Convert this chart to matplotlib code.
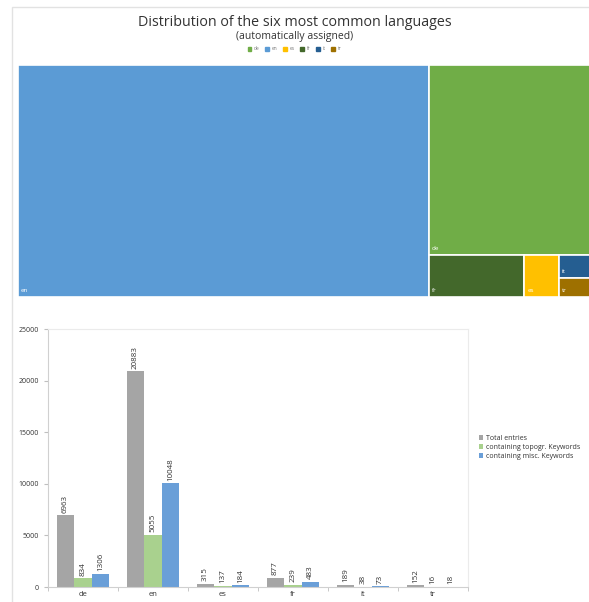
import matplotlib.pyplot as plt
import numpy as np
from matplotlib.patches import Rectangle, Patch

plt.rcParams['font.family'] = ['Open Sans', 'DejaVu Sans']

languages = ["de", "en", "es", "fr", "it", "tr"]
lang_colors = ["#70AD47", "#5B9BD5", "#FFC000", "#43682B", "#255E91", "#9E7000"]
total_entries = [6963, 20883, 315, 877, 189, 152]
topogr_keywords = [834, 5055, 137, 239, 38, 16]
misc_keywords = [1306, 10048, 184, 483, 73, 18]
series_names = ["Total entries", "containing topogr. Keywords", "containing misc. Keywords"]
series_colors = ["#A5A5A5", "#A9D18E", "#6A9FD8"]


def worst(row, length):
    s = sum(row)
    return max(max(length ** 2 * r / s ** 2, s ** 2 / (length ** 2 * r)) for r in row)


def squarify(values, x, y, w, h):
    # plain squarified treemap, values already scaled to w*h
    rects = []
    vals = list(values)
    while vals:
        length = min(w, h)
        row = [vals[0]]
        i = 1
        while i < len(vals) and worst(row + [vals[i]], length) <= worst(row, length):
            row.append(vals[i])
            i += 1
        vals = vals[i:]
        s = sum(row)
        if w >= h:
            cw = s / h
            yy = y
            for r in row:
                rects.append((x, yy, cw, r / cw))
                yy += r / cw
            x += cw
            w -= cw
        else:
            rh = s / w
            xx = x
            for r in row:
                rects.append((xx, y, r / rh, rh))
                xx += r / rh
            y += rh
            h -= rh
    return rects


fig = plt.figure(figsize=(5.89, 6.02), dpi=100)

# outer frame, runs off the right and bottom edge
fig.add_artist(Rectangle((12 / 589, -0.05), 1.0, 1 - 7 / 602 + 0.05, transform=fig.transFigure,
                         fill=False, edgecolor="#E2E2E2", lw=1.0))

fig.text(0.5, 1 - 22 / 602, "Distribution of the six most common languages", ha="center", va="center",
         fontsize=10.3, color="#333333")
fig.text(0.5, 1 - 37 / 602, "(automatically assigned)", ha="center", va="center", fontsize=7.5, color="#333333")
fig.legend(handles=[Patch(color=c, label=l) for l, c in zip(languages, lang_colors)],
           loc="center", bbox_to_anchor=(0.5, 1 - 49 / 602), ncol=6, fontsize=3.5, frameon=False,
           handlelength=0.8, handleheight=0.8, columnspacing=1.2, handletextpad=0.5, labelcolor="#777777")

# treemap
W, H = 578.0, 232.0
ax1 = fig.add_axes([18 / 589, 1 - 297 / 602, W / 589, H / 602])
order = np.argsort(total_entries)[::-1]
vals = np.array(total_entries, dtype=float)[order]
vals = vals / vals.sum() * W * H
for idx, (rx, ry, rw, rh) in zip(order, squarify(vals, 0, 0, W, H)):
    ax1.add_patch(Rectangle((rx, ry), rw, rh, facecolor=lang_colors[idx], edgecolor="white", lw=1.2))
    ax1.text(rx + 3, ry + rh - 4, languages[idx], color="white", fontsize=4.5, va="bottom", ha="left")
ax1.set_xlim(0, W)
ax1.set_ylim(H, 0)
ax1.axis("off")

# grouped bars
ax2 = fig.add_axes([48 / 589, 1 - 587 / 602, 420 / 589, 258 / 602])
x = np.arange(len(languages))
bw = 0.25
for k, (data, color) in enumerate(zip([total_entries, topogr_keywords, misc_keywords], series_colors)):
    bars = ax2.bar(x + (k - 1) * bw, data, bw, color=color, label=series_names[k])
    for b, v in zip(bars, data):
        ax2.text(b.get_x() + b.get_width() / 2, v + 250, str(v), rotation=90, ha="center", va="bottom",
                 fontsize=5.8, color="#333333")
ax2.set_xlim(-0.5, len(languages) - 0.5)
ax2.set_ylim(0, 25000)
ax2.set_yticks(range(0, 25001, 5000))
ax2.set_xticks(x)
ax2.set_xticklabels(languages)
ax2.set_xticks(np.arange(-0.5, len(languages), 1), minor=True)
ax2.tick_params(axis="x", which="major", length=0, labelsize=5.5, pad=3, labelcolor="#333333")
ax2.tick_params(axis="x", which="minor", length=3, color="#BFBFBF")
ax2.tick_params(axis="y", length=3, color="#BFBFBF", labelsize=5, labelcolor="#333333")
for side in ["top", "right"]:
    ax2.spines[side].set_color("#EBEBEB")
    ax2.spines[side].set_linewidth(0.8)
for side in ["left", "bottom"]:
    ax2.spines[side].set_color("#D0D0D0")
    ax2.spines[side].set_linewidth(0.8)
ax2.legend(loc="upper left", bbox_to_anchor=(476 / 589, 1 - 432 / 602), bbox_transform=fig.transFigure,
           fontsize=5, frameon=False, handlelength=0.6, handleheight=0.6, handletextpad=0.4,
           labelspacing=0.3, borderaxespad=0, labelcolor="#333333")

fig.savefig("out.png", dpi=100)
